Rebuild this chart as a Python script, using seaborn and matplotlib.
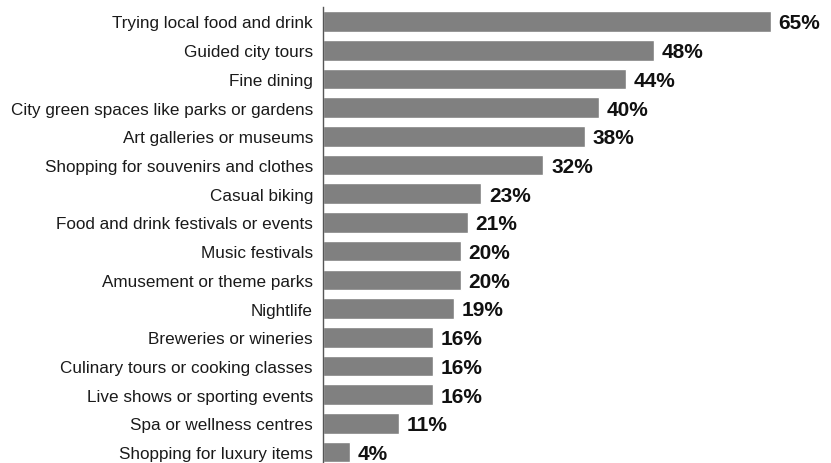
import matplotlib
matplotlib.use("Agg")
import matplotlib.pyplot as plt
import seaborn as sns
import pandas as pd

categories = [
    "Trying local food and drink",
    "Guided city tours",
    "Fine dining",
    "City green spaces like parks or gardens",
    "Art galleries or museums",
    "Shopping for souvenirs and clothes",
    "Casual biking",
    "Food and drink festivals or events",
    "Music festivals",
    "Amusement or theme parks",
    "Nightlife",
    "Breweries or wineries",
    "Culinary tours or cooking classes",
    "Live shows or sporting events",
    "Spa or wellness centres",
    "Shopping for luxury items",
]
values = [65, 48, 44, 40, 38, 32, 23, 21, 20, 20, 19, 16, 16, 16, 11, 4]
value_labels = [f"{v}%" for v in values]

df = pd.DataFrame({"activity": categories, "pct": values})

sns.set_theme(style="white")
plt.rcParams["font.family"] = ["Liberation Sans", "DejaVu Sans"]

W, H = 831, 464
fig = plt.figure(figsize=(W / 100, H / 100), dpi=100)
left_px, top_px, right_px, bottom_px = 322.6, 8, 831, 464
ax = fig.add_axes([left_px / W, 1 - bottom_px / H, (right_px - left_px) / W, (bottom_px - top_px) / H])

sns.barplot(data=df, x="pct", y="activity", orient="h", color="#808080",
            saturation=1, width=0.72, ax=ax)

ax.set_xlim(0, (right_px - left_px) / 6.9)
ax.set_ylim(15.38, -0.505)

for i, (v, lab) in enumerate(zip(values, value_labels)):
    ax.annotate(lab, xy=(v, i), xytext=(5.5, -1), textcoords="offset points",
                ha="left", va="center", fontsize=15, fontweight="bold", color="#111111")

ax.set_xlabel("")
ax.set_ylabel("")
ax.set_xticks([])
ax.tick_params(axis="y", length=0, pad=7, labelsize=12.3, labelcolor="#1a1a1a")
for s in ["top", "right", "bottom"]:
    ax.spines[s].set_visible(False)
ax.spines["left"].set_color("#555555")
ax.spines["left"].set_linewidth(1.0)

fig.savefig("out.png", dpi=100)
